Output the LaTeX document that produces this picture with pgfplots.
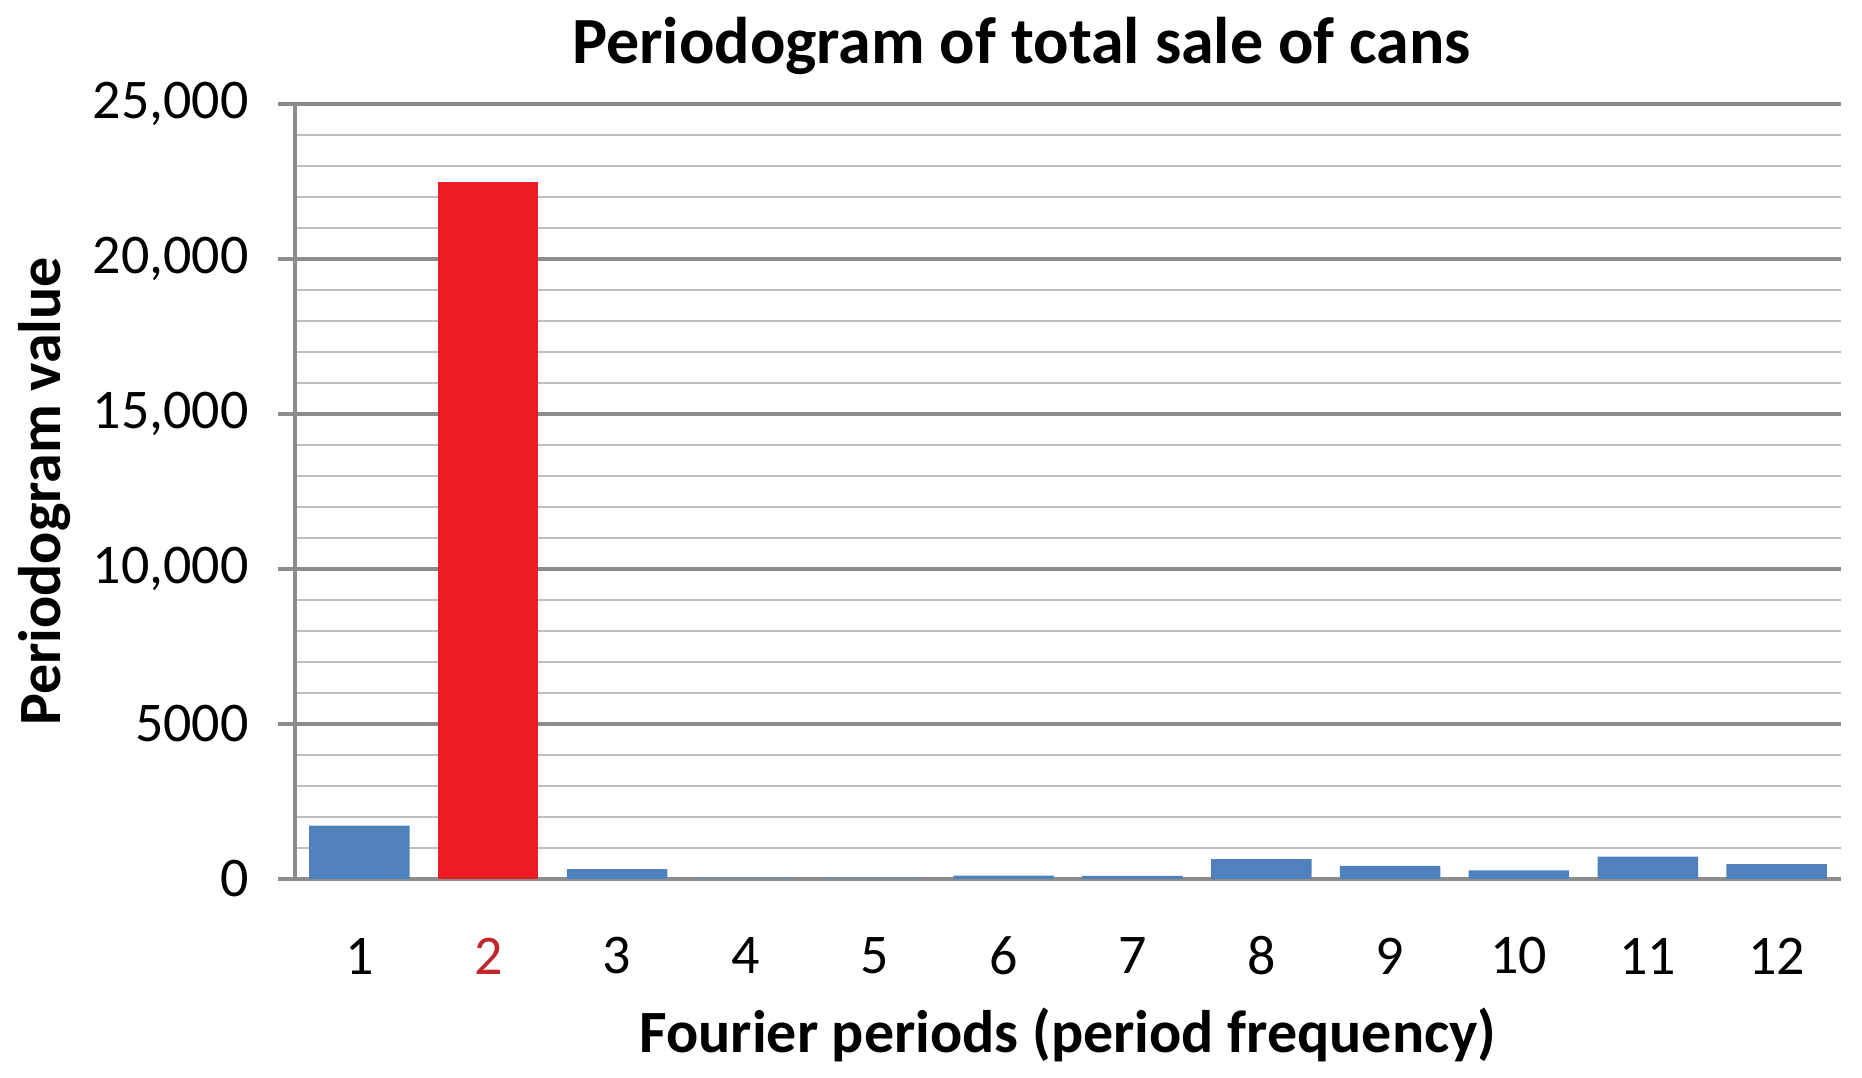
\documentclass[border=0pt]{standalone}
\usepackage{pgfplots}
\pgfplotsset{compat=1.18}
\usepackage{fontspec}
\setmainfont{Carlito}
\definecolor{barblue}{HTML}{4F81BD}
\definecolor{barred}{HTML}{ED1C24}
\definecolor{majgrid}{HTML}{8C8C8C}
\definecolor{mingrid}{HTML}{BFBFBF}
\definecolor{lblred}{HTML}{C0272D}
\begin{document}
\begin{tikzpicture}
\begin{axis}[
  at={(0,0)}, anchor=south west,
  scale only axis, width=773pt, height=387.5pt,
  xmin=0.5, xmax=12.5, ymin=0, ymax=25000,
  scaled y ticks=false,
  axis x line*=bottom, axis y line*=left,
  axis line style={-, draw=majgrid, line width=1.6pt},
  ybar, bar width=0.78, bar shift=0pt,
  xtick={1,...,12},
  xticklabels={1,\textcolor{lblred}{2},3,4,5,6,7,8,9,10,11,12},
  ytick={0,5000,10000,15000,20000,25000},
  yticklabels={0,5000,{10,000},{15,000},{20,000},{25,000}},
  minor ytick={1000,2000,3000,4000,6000,7000,8000,9000,11000,12000,13000,14000,16000,17000,18000,19000,21000,22000,23000,24000},
  ymajorgrids, yminorgrids,
  major grid style={draw=majgrid, line width=1.6pt},
  minor grid style={draw=mingrid, line width=1.3pt},
  tick align=outside, major tick length=8.5pt, minor tick length=0pt,
  ytick style={draw=majgrid, line width=1.6pt},
  xtick style={draw=none},
  tick label style={font=\fontsize{28}{32}\selectfont, text=black},
  yticklabel style={anchor=east, inner sep=0pt, xshift=-14.5pt},
  xticklabel style={anchor=center, inner sep=0pt, yshift=-30pt},
  xlabel={\textbf{Fourier periods (period frequency)}},
  ylabel={\textbf{Periodogram value}},
  label style={font=\fontsize{30}{34}\selectfont},
  xlabel style={at={(axis description cs:0.5,-0.2013)}, anchor=center},
  ylabel style={at={(axis description cs:-0.1617,0.5)}, anchor=center},
  title={\textbf{Periodogram of total sale of cans}},
  title style={at={(axis description cs:0.470,1.060)}, anchor=center, font=\fontsize{33}{38}\selectfont},
]
\addplot[fill=barblue, draw=none] coordinates {(1,1720) (3,320) (4,15) (5,15) (6,110) (7,100) (8,640) (9,420) (10,280) (11,720) (12,480)};
\addplot[fill=barred, draw=none] coordinates {(2,22480)};
\coordinate (bl) at (rel axis cs:0,0);
\coordinate (tr) at (rel axis cs:1,1);
\end{axis}
\pgfresetboundingbox
\path ([xshift=-147.5pt,yshift=-99.5pt]bl) rectangle ([xshift=10.5pt,yshift=52pt]tr);
\end{tikzpicture}
\end{document}
